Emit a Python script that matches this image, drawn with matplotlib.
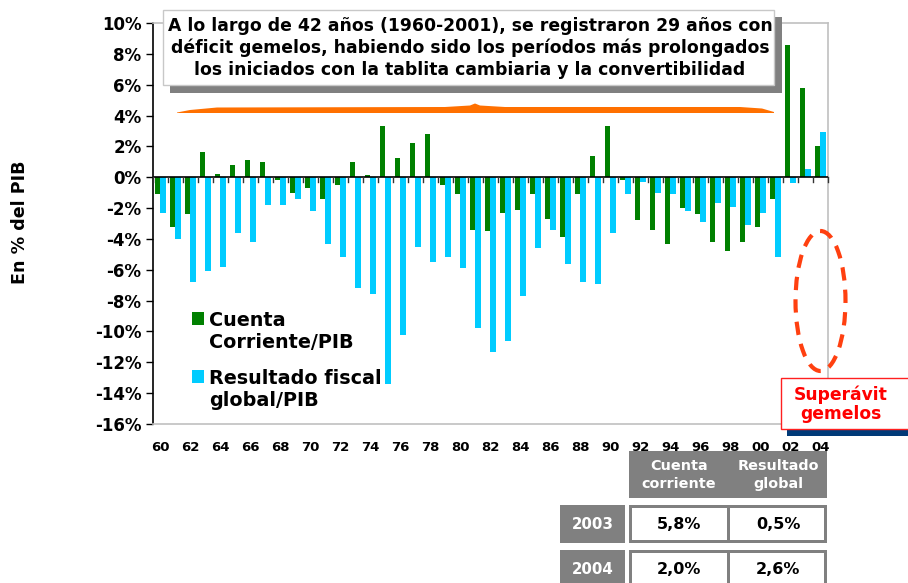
import matplotlib
matplotlib.use('Agg')
import matplotlib.pyplot as plt
from matplotlib.patches import Rectangle, Ellipse, Polygon
import numpy as np

# Data (% of GDP), 1960-2004
years = list(range(1960, 2005))
cuenta_corriente = [-1.1, -3.2, -2.4, 1.65, 0.2, 0.8, 1.1, 1.0, -0.15, -1.0,
                    -0.7, -1.4, -0.5, 1.0, 0.15, 3.35, 1.25, 2.25, 2.8, -0.5,
                    -1.1, -3.4, -3.5, -2.3, -2.1, -1.1, -2.7, -3.9, -1.1, 1.35,
                    3.35, -0.15, -2.75, -3.4, -4.3, -2.0, -2.4, -4.2, -4.8, -4.2,
                    -3.2, -1.4, 8.55, 5.8, 2.05]
resultado_fiscal = [-2.3, -4.0, -6.8, -6.1, -5.8, -3.6, -4.2, -1.8, -1.8, -1.4,
                    -2.2, -4.3, -5.2, -7.2, -7.6, -13.4, -10.2, -4.5, -5.5, -5.2,
                    -5.9, -9.8, -11.3, -10.6, -7.7, -4.6, -3.4, -5.6, -6.8, -6.9,
                    -3.6, -1.1, -0.3, -1.0, -1.1, -2.2, -2.9, -1.65, -1.9, -3.1,
                    -2.3, -5.2, -0.35, 0.55, 2.95]
y_ticks = list(range(-16, 11, 2))

# Small table
tabla_cols = ['Cuenta\ncorriente', 'Resultado\nglobal']
tabla_filas = ['2003', '2004']
tabla_vals = [['5,8%', '0,5%'], ['2,0%', '2,6%']]

note = ('A lo largo de 42 años (1960-2001), se registraron 29 años con\n'
        'déficit gemelos, habiendo sido los períodos más prolongados\n'
        'los iniciados con la tablita cambiaria y la convertibilidad')

green = '#008000'
cyan = '#00CCFF'
W, H = 908, 583

plt.rcParams['font.family'] = ['DejaVu Sans']
plt.rcParams['font.weight'] = 'bold'

fig = plt.figure(figsize=(W / 100, H / 100), dpi=100)
ax = fig.add_axes([152.7 / W, (H - 424) / H, (827.7 - 152.7) / W, (424 - 23) / H])

x = np.arange(len(years))
bw = 0.37
ax.bar(x - bw / 2, cuenta_corriente, bw, color=green, zorder=2)
ax.bar(x + bw / 2, resultado_fiscal, bw, color=cyan, zorder=2)

ax.set_xlim(-0.5, len(years) - 0.5)
ax.set_ylim(-16, 10)
ax.set_yticks(y_ticks)
ax.set_yticklabels([f'{v}%' for v in y_ticks], fontsize=12, fontweight='bold')
ax.tick_params(axis='y', direction='out', length=5, width=1, pad=3, color='black')

ax.set_xticks(x[::2])
ax.set_xticklabels([str(y)[2:] for y in years[::2]], fontsize=9.5, fontweight='bold')
ax.tick_params(axis='x', length=0, pad=12)

# zero line with small category ticks
ax.axhline(0, color='black', lw=1.2, zorder=3)
for b in np.arange(-0.5, len(years), 1.0):
    ax.plot([b, b], [0, -0.28], color='#333333', lw=1, zorder=3, clip_on=False)

ax.spines['left'].set_color('black')
ax.spines['left'].set_linewidth(1.2)
for s in ['top', 'right', 'bottom']:
    ax.spines[s].set_color('#C0C0C0')
    ax.spines[s].set_linewidth(1.2)

# overlay in pixel coordinates for annotations
ov = fig.add_axes([0, 0, 1, 1])
ov.set_xlim(0, W)
ov.set_ylim(H, 0)
ov.axis('off')
ov.patch.set_alpha(0)
ov.set_zorder(5)

# text box with shadow
ov.add_patch(Rectangle((170, 17), 612, 76, color='#808080', lw=0))
ov.add_patch(Rectangle((163, 10), 611, 75, facecolor='white', edgecolor='#C8C8C8', lw=1))
ov.text(470, 48, note, ha='center', va='center', fontsize=12.4, fontweight='bold',
        linespacing=1.27, color='black')

# orange brace
brace = [(177, 112.5), (190, 110), (217, 107.5), (445, 107), (470, 105.5), (475, 103.5),
         (480, 105.5), (505, 107), (740, 107), (762, 108.5), (774, 112), (774, 113),
         (177, 113)]
ov.add_patch(Polygon(brace, closed=True, color='#FF7000', lw=0))

# legend
ov.add_patch(Rectangle((192, 312), 12, 13, color=green, lw=0))
ov.text(209, 332, 'Cuenta\nCorriente/PIB', ha='left', va='center', fontsize=13.8,
        fontweight='bold', linespacing=1.2)
ov.add_patch(Rectangle((192, 370), 12, 13, color=cyan, lw=0))
ov.text(209, 390, 'Resultado fiscal\nglobal/PIB', ha='left', va='center', fontsize=13.8,
        fontweight='bold', linespacing=1.2)

# y label
ov.text(20, 222, 'En % del PIB', rotation=90, ha='center', va='center', fontsize=12.6,
        fontweight='bold')

# dashed ellipse
ov.add_patch(Ellipse((820.5, 301), 50, 140, fill=False, edgecolor='#FF4010', lw=3,
                     linestyle=(0, (3.2, 2.2))))

# superavit box
ov.add_patch(Rectangle((787, 429), 125, 7, color='#003A78', lw=0))
ov.add_patch(Rectangle((781, 378), 130, 51, facecolor='white', edgecolor='#FF2020', lw=1))
ov.text(841, 404, 'Superávit\ngemelos', ha='center', va='center', fontsize=12.3,
        fontweight='bold', color='#FF0000', linespacing=1.05)

# table
grey = '#808080'
ov.add_patch(Rectangle((629, 451), 198, 47, color=grey, lw=0))
col_cx = [679, 778]
for cx, lab in zip(col_cx, tabla_cols):
    ov.text(cx, 475, lab, ha='center', va='center', fontsize=10.4, fontweight='bold',
            color='white', linespacing=1.35)
row_y = [(505, 543), (550, 590)]
for (y0, y1), lab, vals in zip(row_y, tabla_filas, tabla_vals):
    ov.add_patch(Rectangle((560, y0), 65, y1 - y0, color=grey, lw=0))
    ov.text(593, y0 + 19.5, lab, ha='center', va='center', fontsize=10.8,
            fontweight='bold', color='white')
    ov.add_patch(Rectangle((629, y0), 198, y1 - y0, color=grey, lw=0))
    ov.add_patch(Rectangle((632, y0 + 3), 95, y1 - y0 - 6, color='white', lw=0))
    ov.add_patch(Rectangle((730, y0 + 3), 94, y1 - y0 - 6, color='white', lw=0))
    for cx, v in zip(col_cx, vals):
        ov.text(cx, y0 + 19.5, v, ha='center', va='center', fontsize=11.5,
                fontweight='bold', color='black')

fig.savefig('out.png', dpi=100)
